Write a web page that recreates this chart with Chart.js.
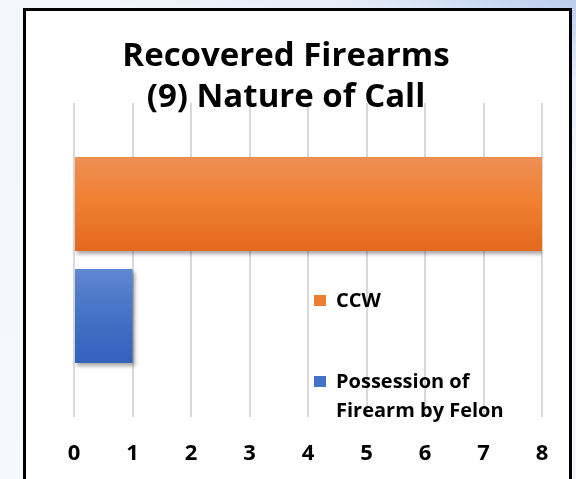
<!DOCTYPE html>
<html>
<head>
<meta charset="utf-8">
<script src="https://cdn.jsdelivr.net/npm/chart.js@4/dist/chart.umd.min.js"></script>
<style>
  html, body { margin: 0; padding: 0; }
  body {
    width: 576px; height: 479px; overflow: hidden; position: relative;
    background: linear-gradient(200deg, #b9cdee 0%, #e4ecf8 12%, #f3f6fc 25%, #f5f8fd 100%);
  }
  #panel {
    position: absolute; left: 23px; top: 8px; width: 543px; height: 500px;
    background: #fff; border: 3px solid #000;
  }
  #wrap { position: absolute; left: 0; top: 0; width: 576px; height: 479px; }
  #titulo {
    position: absolute; left: 86px; top: 33px; width: 400px; text-align: center;
    font-family: "Open Sans", sans-serif; font-weight: bold; font-size: 33px;
    line-height: 41px; color: #000;
  }
  #legenda {
    position: absolute; left: 314px; top: 285px; width: 230px;
    font-family: "Open Sans", sans-serif; font-weight: bold; font-size: 20px;
    line-height: 29px; color: #000;
  }
  .item { position: relative; padding-left: 22px; width: 205px; }
  .item span.box {
    position: absolute; left: 0; top: 10px; width: 12px; height: 11px;
  }
</style>
</head>
<body>
<div id="panel"></div>
<div id="wrap"><canvas id="grafico" width="576" height="479"></canvas></div>
<div id="titulo"></div>
<div id="legenda"></div>
<script>
// dados
const titulo = ['Recovered Firearms', '(9) Nature of Call'];
const categorias = [''];
const series = ['CCW', 'Possession of Firearm by Felon'];
const valores = [[8], [1]];
const cores = ['#ED7D31', '#4472C4'];
const gradientes = [['#EF8E55', '#F07F2E', '#E2691D'], ['#6187D1', '#4472C4', '#3461BD']];
const ticksX = [0, 1, 2, 3, 4, 5, 6, 7, 8];

// pinta cada barra com degradê vertical e sombra
const efeitoBarras = {
    id: 'efeitoBarras',
    beforeDatasetsDraw(chart) {
        const ctx = chart.ctx;
        chart.data.datasets.forEach((ds, i) => {
            chart.getDatasetMeta(i).data.forEach(bar => {
                const top = bar.y - bar.height / 2;
                const g = ctx.createLinearGradient(0, top, 0, top + bar.height);
                g.addColorStop(0, gradientes[i][0]);
                g.addColorStop(0.5, gradientes[i][1]);
                g.addColorStop(1, gradientes[i][2]);
                bar.options.backgroundColor = g;
            });
        });
        ctx.save();
        ctx.shadowColor = 'rgba(0,0,0,0.35)';
        ctx.shadowBlur = 4;
        ctx.shadowOffsetX = 2;
        ctx.shadowOffsetY = 3;
    },
    afterDatasetsDraw(chart) {
        chart.ctx.restore();
    }
};

const ctx = document.getElementById('grafico').getContext('2d');
const grafico = new Chart(ctx, {
    type: 'bar',
    data: {
        labels: categorias,
        datasets: series.map((nome, i) => ({
            label: nome,
            data: valores[i],
            backgroundColor: cores[i],
            borderWidth: 0,
            categoryPercentage: 0.713,
            barPercentage: 0.84
        }))
    },
    options: {
        indexAxis: 'y',
        responsive: false,
        animation: false,
        layout: { padding: { left: 74, right: 34, top: 103, bottom: 0 } },
        plugins: {
            legend: { display: false },
            tooltip: { enabled: false },
            title: { display: false }
        },
        scales: {
            x: {
                min: 0,
                max: 8,
                afterBuildTicks: scale => { scale.ticks = ticksX.map(v => ({ value: v })); },
                afterFit: scale => { scale.height = 62; },
                grid: { color: '#d9d9d9', lineWidth: 2, drawTicks: false },
                border: { display: false },
                ticks: {
                    color: '#000',
                    padding: 24,
                    font: { family: 'Open Sans', size: 22, weight: 'bold' }
                }
            },
            y: { display: false }
        }
    },
    plugins: [efeitoBarras]
});

// título e legenda em HTML, como no original (legenda dentro da área do gráfico)
document.getElementById('titulo').innerHTML = titulo.join('<br>');
const legenda = document.getElementById('legenda');
grafico.data.datasets.forEach((ds, i) => {
    const item = document.createElement('div');
    item.className = 'item';
    item.style.marginBottom = i === 0 ? '52px' : '0';
    item.innerHTML = '<span class="box" style="background:' + cores[i] + '"></span>' + ds.label;
    legenda.appendChild(item);
});
</script>
</body>
</html>
